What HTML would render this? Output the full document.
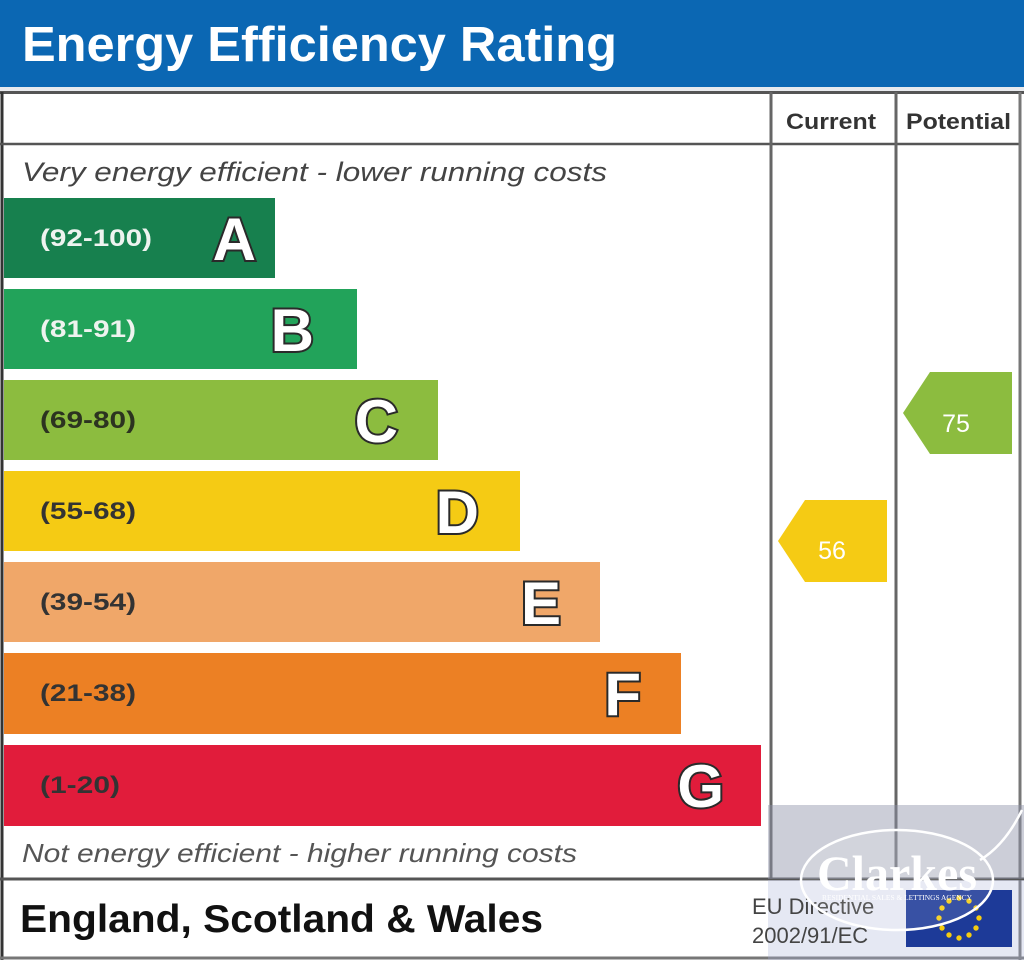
<!DOCTYPE html>
<html><head><meta charset="utf-8"><style>
html,body{margin:0;padding:0;background:#fff;}
svg{display:block;}
</style></head><body>
<svg width="1024" height="960" viewBox="0 0 1024 960" xmlns="http://www.w3.org/2000/svg" font-family="Liberation Sans, Arial, sans-serif">
<rect x="0" y="0" width="1024" height="960" fill="#fff"/>
<!-- header -->
<rect x="0" y="0" width="1024" height="87" fill="#0b67b3"/>
<rect x="0" y="87" width="1024" height="4" fill="#e8eaee"/>
<text x="22" y="61" font-size="49" font-weight="bold" fill="#fff" textLength="595" lengthAdjust="spacingAndGlyphs">Energy Efficiency Rating</text>

<!-- table lines -->
<g stroke="#555" fill="none">
<line x1="0" y1="92.5" x2="1024" y2="92.5" stroke-width="3"/>
<line x1="2" y1="92" x2="2" y2="960" stroke-width="3" stroke="#333"/>
<line x1="0" y1="144" x2="1021" y2="144" stroke-width="2.5"/>
<line x1="771" y1="92" x2="771" y2="879" stroke-width="3" stroke="#666"/>
<line x1="896" y1="92" x2="896" y2="879" stroke-width="3" stroke="#666"/>
<line x1="1020" y1="92" x2="1020" y2="960" stroke-width="3" stroke="#777"/>
<line x1="0" y1="879" x2="1024" y2="879" stroke-width="3"/>
<line x1="0" y1="958" x2="1024" y2="958" stroke-width="3" stroke="#777"/>
</g>

<text x="786" y="129" font-size="22" font-weight="bold" fill="#333" textLength="90" lengthAdjust="spacingAndGlyphs">Current</text>
<text x="906" y="129" font-size="22" font-weight="bold" fill="#333" textLength="105" lengthAdjust="spacingAndGlyphs">Potential</text>

<text x="22" y="181" font-size="27" font-style="italic" fill="#444" textLength="585" lengthAdjust="spacingAndGlyphs">Very energy efficient - lower running costs</text>
<text x="22" y="862" font-size="26" font-style="italic" fill="#555" textLength="555" lengthAdjust="spacingAndGlyphs">Not energy efficient - higher running costs</text>

<!-- bars -->
<rect x="4" y="198" width="271" height="80" fill="#17804e"/>
<rect x="4" y="289" width="353" height="80" fill="#22a35a"/>
<rect x="4" y="380" width="434" height="80" fill="#8cbc3f"/>
<rect x="4" y="471" width="516" height="80" fill="#f5cb14"/>
<rect x="4" y="562" width="596" height="80" fill="#f0a769"/>
<rect x="4" y="653" width="677" height="81" fill="#ec8024"/>
<rect x="4" y="745" width="757" height="81" fill="#e11c3b"/>

<g font-size="24" font-weight="bold">
<text x="40" y="246" fill="#eef3ef" textLength="112" lengthAdjust="spacingAndGlyphs">(92-100)</text>
<text x="40" y="337" fill="#eef3ef" textLength="96" lengthAdjust="spacingAndGlyphs">(81-91)</text>
<text x="40" y="428" fill="#2c3320" textLength="96" lengthAdjust="spacingAndGlyphs">(69-80)</text>
<text x="40" y="519" fill="#333" textLength="96" lengthAdjust="spacingAndGlyphs">(55-68)</text>
<text x="40" y="610" fill="#333" textLength="96" lengthAdjust="spacingAndGlyphs">(39-54)</text>
<text x="40" y="701" fill="#333" textLength="96" lengthAdjust="spacingAndGlyphs">(21-38)</text>
<text x="40" y="793" fill="#333" textLength="80" lengthAdjust="spacingAndGlyphs">(1-20)</text>
</g>

<g font-size="60" font-weight="bold" fill="#fff" stroke="#2a2a2a" stroke-width="4" paint-order="stroke" text-anchor="end">
<text x="256" y="260">A</text>
<text x="314" y="351">B</text>
<text x="398" y="442">C</text>
<text x="479" y="533">D</text>
<text x="561" y="624">E</text>
<text x="641" y="715">F</text>
<text x="724" y="807">G</text>
</g>

<!-- arrows -->
<polygon points="778,541 805,500 887,500 887,582 805,582" fill="#f5cb14"/>
<text x="832" y="559" font-size="25" fill="#fff" text-anchor="middle">56</text>
<polygon points="903,413 930,372 1012,372 1012,454 930,454" fill="#8cbc3f"/>
<text x="956" y="432" font-size="25" fill="#fff" text-anchor="middle">75</text>

<!-- footer -->
<text x="20" y="932" font-size="39" font-weight="bold" fill="#111" textLength="523" lengthAdjust="spacingAndGlyphs">England, Scotland &amp; Wales</text>

<!-- watermark -->
<rect x="768" y="805" width="256" height="74" fill="#8e93a8" fill-opacity="0.45"/>
<rect x="768" y="880" width="256" height="80" fill="#a8b2d8" fill-opacity="0.3"/>
<text x="752" y="914" font-size="22" fill="#444">EU Directive</text>
<text x="752" y="943" font-size="22" fill="#444">2002/91/EC</text>
<rect x="906" y="890" width="106" height="57" fill="#1d3a98"/>
<g fill="#f5cc10">
<circle cx="959" cy="898" r="2.7"/><circle cx="969" cy="901" r="2.7"/><circle cx="976" cy="908" r="2.7"/><circle cx="979" cy="918" r="2.7"/><circle cx="976" cy="928" r="2.7"/><circle cx="969" cy="935" r="2.7"/><circle cx="959" cy="938" r="2.7"/><circle cx="949" cy="935" r="2.7"/><circle cx="942" cy="928" r="2.7"/><circle cx="939" cy="918" r="2.7"/><circle cx="942" cy="908" r="2.7"/><circle cx="949" cy="901" r="2.7"/>
</g>
<path d="M980 860 Q1005 845 1022 810" stroke="#fff" stroke-width="2.5" fill="none"/>
<ellipse cx="897" cy="880" rx="96" ry="50" fill="#fff" fill-opacity="0.12" stroke="#fff" stroke-width="2.5"/>
<text x="897" y="890" font-family="Liberation Serif, serif" font-size="50" font-weight="bold" fill="#fff" text-anchor="middle" textLength="160" lengthAdjust="spacingAndGlyphs">Clarkes</text>
<text x="897" y="900" font-family="Liberation Serif, serif" font-size="7" fill="#fff" text-anchor="middle" textLength="150" lengthAdjust="spacingAndGlyphs">RESIDENTIAL SALES &amp; LETTINGS AGENCY</text>
</svg>
</body></html>
